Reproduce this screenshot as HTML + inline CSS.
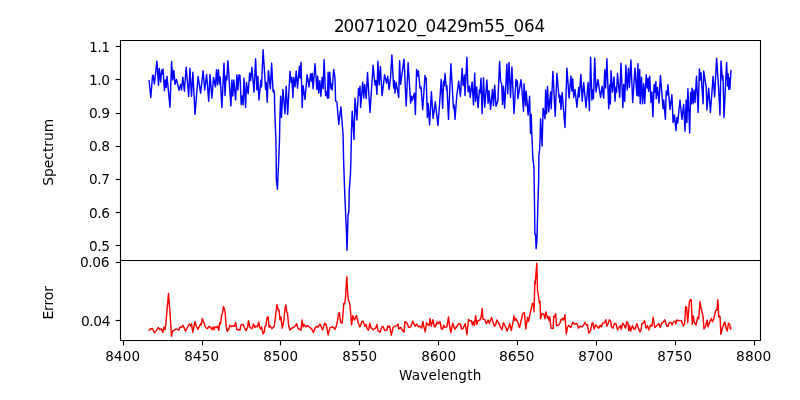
<!DOCTYPE html>
<html lang="en"><head><meta charset="utf-8"><title>20071020_0429m55_064</title>
<style>html,body{margin:0;padding:0;background:#fff;overflow:hidden}svg{display:block}text{font-family:"DejaVu Sans", "Liberation Sans", sans-serif;fill:#000}</style></head><body>
<svg width="800" height="400" viewBox="0 0 800 400">
<rect width="800" height="400" fill="#fff"/>
<clipPath id="c1"><rect x="120" y="40" width="640" height="220"/></clipPath>
<clipPath id="c2"><rect x="120" y="260" width="640" height="80"/></clipPath>
<polyline clip-path="url(#c1)" fill="none" stroke="#0000ff" stroke-width="1.43" stroke-linejoin="round" stroke-linecap="square" points="149.1,80.7 150.8,97.5 152.5,76 153.1,75 154.4,84 156.9,61.2 158.5,85.2 159.2,68.2 160.6,82 161.6,70 162.3,74 163.1,69 164.4,90.6 165.4,80 166.2,87.5 167,76.2 170,107.2 171.6,61.5 172.7,80 173.9,70.4 175,84.4 176.5,79.4 179,90.2 180.6,84.4 181.5,90 182.8,77.3 184.4,91.2 186.2,67.3 188.7,96.5 189.9,68.3 191.5,96.2 192.9,72.3 195,114.4 198.1,76.5 200.6,93.1 203.1,70.6 204.7,90 206.6,74.4 208.7,101.2 210,74.4 211.9,98.1 213.5,77.5 215.4,86.9 216.5,69.7 217.5,85 218.4,69.7 219.6,84 220.2,77 221.9,107.5 224,63.1 225,95.6 226,76 226.8,80 227.9,60.6 230.9,105.9 231.9,80 232.8,96 233.8,80 235.6,100 236.9,75 237.9,90 239,75 240,75.3 241.2,104.5 242.2,96 243.1,105 244,78.1 245.6,107.5 246.5,82.5 248.1,93.7 249.7,73.1 250.6,80.6 251.9,67.2 254,92.2 255.6,58.7 256.9,90 257.9,76.2 259,100 260.9,80.2 261.5,86.9 263.1,49.7 265.6,89.4 266.2,82.5 267.2,102.2 268.4,70.6 270.4,88.7 271.6,63.1 273.1,91.9 273.8,90 274.4,93 274.75,110 275.9,140 276.25,165 276.3,178.5 277.4,189.2 278.5,165 279.5,140 279.85,120 280.6,96.2 281.5,117.5 282.9,89.4 285,113.7 286.2,86.2 287.7,114.4 290,71.2 291.2,82.5 291.9,77.5 292.9,97.5 293.7,77.5 295,86.9 296.2,71 297.5,88.1 299.4,66.2 300,78.1 301,62.2 302.2,107.5 303.1,85.6 305,99.4 307.1,74.7 309,86.9 310.6,73.7 311.5,81.2 312.2,73.5 313.1,88.7 315,63.7 316.9,89.4 317.7,76.2 318.7,93.1 319.8,80.6 320.9,96.2 322.1,77.5 323.1,88.7 324.1,59.7 325.6,95.6 326.5,92 327.5,98.1 328.1,72.2 328.7,98.1 329.7,72.2 331,88.7 331.6,84 332.2,90 333.7,69.4 335,78 335.6,101.2 336.9,102 338.7,124.4 340.9,106.9 343.1,135 343.6,160 344.6,190 345.9,220 346.3,228 347,250.3 347.6,232 347.9,220 348.1,214 348.9,212 349.25,190 350.4,175 350.9,160 351.5,130 352.2,111.2 354,139.5 355,98.1 356.9,120 358.5,88.7 359.2,95 360,86.2 360.6,107.5 362.7,82.2 363.7,98 364.7,84.4 366.2,98.7 367.5,72.5 370,112.5 373.1,65.2 375,85 376,80.6 376.9,94.4 377.9,61.2 379.1,85 380.4,66.5 382.1,95.6 384.6,74.7 386.5,83.1 387.7,76.2 389.1,89.5 390.6,76.9 391.9,55 393.7,88.1 394.4,80.6 395,93.1 396.2,82.5 398.7,97.5 399.6,60.6 400.6,84.4 404,59.1 406.2,106 408.1,62.7 410.6,103.1 411.5,96.2 412.2,100.6 414.4,93.1 415.4,114.4 416.6,69.4 417.5,76 418.4,71 420,88.1 421,86.9 422.7,109.7 425,75.4 425.6,79.5 426.2,78.1 427.35,117.5 428.2,103.5 429.6,125 431.4,91.8 433.1,118.3 435.3,101.8 437.9,125.5 439.8,101 441.2,79.4 442.7,108.2 443.5,81.2 444.2,86 445,73.5 446.5,90 446.9,85.6 448.5,119.4 450.9,63.7 453.5,108.5 454.1,105 455,119.4 456.8,95.5 458.7,81.2 460.4,96.2 462.1,68.5 463.1,85.6 464.4,75 465,95.6 466.9,57.2 468.1,91.9 469.4,86.2 470.2,97.5 472.1,81.9 473.5,105 474.7,73.1 475.6,101.2 476.6,86.9 478.1,107.7 479.4,90 480,93 481,78.1 482.1,113.7 483.5,77.7 484.7,107.2 486.9,80 488.1,103.1 489,90.6 490.6,109.4 492.5,89.4 493.5,105.6 494.7,85.2 496,106.2 497.9,100.6 499.6,61.5 500.6,81.5 501.7,84 502.5,104.4 503.5,86.2 504.6,108.1 506.9,64 507.7,93.7 509,62.5 510.5,97.5 511.9,66.9 514,113.7 516,79.4 517,86 517.4,81 517.9,98.7 521,79.7 522.2,93 523.5,111.2 524,83.7 525.6,105.6 526.2,91.2 528.1,115 529.6,96.2 530.5,133.5 531.2,114.5 531.9,135 532.5,150 532.9,159.7 533.85,165.7 534.15,180 534.6,210 534.9,234 535.6,235 536.1,248.8 536.9,241 537.15,232.5 537.75,210 538.65,180 538.9,155 539.6,150 540,140 540.6,118.7 542.1,146 543.1,108.1 545,118.7 545.6,90 546.5,113.7 547.5,86.5 548.7,111.9 550.6,91.9 551.2,108.7 552.9,71.5 555.2,116.2 556.9,73.5 559,97.5 559.4,95 559.8,102.5 560.4,96 561,109.4 562.1,92.5 565,127.5 566.9,68.1 569.1,98.1 570.9,76 571.9,91 572.7,78.7 573.7,97.5 575,89.4 576.9,107.2 578.7,87.5 579.2,97 580.9,74.4 582.2,101.2 583.7,82.5 586,107.5 588.1,82.5 589.4,110.6 590.6,57.2 591.9,100 592.8,90 593.5,98.7 594.7,57.9 596,91.9 597.9,79.7 600.6,97.5 602.1,86.2 603.7,98.1 604.7,70 605.6,88 606.9,58.7 608.7,108.7 609.6,85 610.4,104 611,70.6 612.5,92 614,76.9 615,101.2 616,87 616.6,92 617.5,73.5 619.7,97.5 621,63.1 622.9,107.5 623.7,84.4 624.7,101.2 625.9,65.2 627.2,90 628.5,68.1 629.4,87.5 630.9,60 632.7,102.5 635,68.1 636.9,95.6 637.9,63.7 638.5,96.2 639.7,69.4 640.2,103.7 641.5,77.2 642.5,103.7 643.7,83.7 644.7,103.5 646.2,74.7 647.2,88 648.1,78.1 648.6,91.2 649.7,76.2 651,102.5 651.9,92 652.9,116.9 654.1,84.4 655,92 655.9,81.6 656.2,98.7 657.5,87.5 659,103.1 660.4,75.4 663.1,108.7 663.7,100 665.4,119.4 666.2,91.2 667.1,95 667.9,84.7 670,109.4 671.9,94.7 673.1,122.5 674.4,115 676,130.6 676.9,117.5 677.7,123.1 680,100 681.9,119.4 683.7,104.4 685,131.2 686.2,100 686.9,122.5 687.9,88.7 689.7,133.1 690.6,92.5 691.3,104 692.1,88.1 693.1,103.7 694,90 695,102.5 696.5,76.2 698.1,112.5 699.4,69 700.2,80 701,72.7 703.1,103.7 703.7,71 706.3,88 706.9,110 708.7,88.1 710.4,112.5 713.1,76.2 714.6,96.9 716.6,58.1 718.5,86.2 720,115 721,61 722.5,80 723,76 724,117.5 726.6,62.5 727.6,86 728.2,74 728.8,89.5 729.4,78 729.9,89 731,70.6"/>
<polyline clip-path="url(#c2)" fill="none" stroke="#ff0000" stroke-width="1.43" stroke-linejoin="round" stroke-linecap="square" points="149.12,330.25 150.62,328.75 152.5,328.5 154.38,332.75 156.25,330.62 158.12,327.5 160,329.75 161.25,328.75 162.88,332.5 164,326.88 165,329.75 165.62,326.25 168.5,293.5 170,312.5 171.5,336.25 172.5,331 174.38,330.25 176.25,328.75 178.75,330.25 180.25,326.88 181.5,327.5 182.88,325.25 184,327.5 185.62,331.25 187.5,327.25 189.38,324 190.62,326.25 191.5,323.75 192.88,332.5 193.75,327.5 195,321.5 196.25,326.25 197.88,329.38 199.38,326.25 200.88,323.5 201.25,325 202.25,318.5 203.75,322.5 205.62,327.5 207.5,328.75 208.75,326.5 210.62,327.25 211.88,329.75 213.12,326.88 214,329.75 215,326.88 216.88,327.5 217.75,326.25 218.75,330.25 219.75,322.75 220.62,323.75 221.62,315 222.5,313.12 223.5,306.5 225,311.25 226.25,326.25 227.25,331.25 228.75,329 230,325.25 231.25,326.5 233.12,326 234.38,326.25 235.62,322.5 236.88,329.75 238.75,329.75 240,330 241,325 243.12,324.38 244.38,327.5 246,330.62 247.5,327.5 248.5,320.62 249.75,327.25 251.88,328.75 253.5,324 254.75,327.5 255.62,326.25 257.5,326.88 258.75,321.88 259.75,327.5 260.62,329 261.62,326.88 263.12,333.75 264.38,331.88 265,326.25 266,325.62 266.88,318.12 268.12,316.88 269.12,327.25 270,325.62 271.88,328.75 274.38,326 275.62,315 276.88,304.75 278.12,310 279,309.75 280,320 281,316.88 282.25,328.12 283.75,321.25 285,308.75 285.88,305 286.88,312.5 287.5,313.12 288.75,326.25 290,330 291.88,328.12 293.75,327.25 295,326.25 296.62,323.75 298.12,328.75 300,329.38 301,330.25 302.12,320 303.12,326.88 304.12,324.38 305.62,326.88 307.5,325.62 310,327.5 311.88,329.38 313.5,332.5 315,328.12 316.88,326.25 318.12,327.25 320,324 321.25,326.88 322.5,330 324.75,323.12 326,324.38 326.88,327.5 328.12,335 329.75,328.12 331.88,326.88 333.75,327.5 331.88,326.88 333.5,327.5 335,329.38 336.25,326 337.5,321.25 338.5,313.5 339.38,312.75 340.62,322.5 342.12,323.12 343.12,312.5 343.75,303.5 344.75,303.75 345.62,296.25 346.8,276.6 347.5,290 348.4,300.5 349.4,301.9 350,306.2 350.62,312.5 351.62,325 352.88,315.62 354.38,320 356.5,315.62 358.12,322.75 360,326.88 361.88,321.5 363.12,321.25 364.75,326.25 366,324.38 367.25,328.75 368.5,330.25 369.75,323.5 371,327.5 373.12,329.75 375.62,328.12 376.88,324.38 377.88,330.62 380,332.25 381.88,326.88 383.12,326.5 384.75,330.62 386.88,330 387.88,326 388.75,326.88 389.75,326 391.25,335.25 393.12,327.25 395,326 396.88,325.62 398.12,324 398.75,328.75 401,327.5 402.25,330 404,332.25 405,321.5 406.88,322.75 408.75,327.5 410.62,326.88 412.75,321.25 414,324.38 415.38,326.25 416.5,324 418.5,326.88 419.75,326 421.62,328.12 422.88,321.5 423.75,326.25 425.25,331.88 426.5,322.75 428.12,325 429.12,325.62 430,318.5 431.25,326.25 432.88,319.75 434.38,326.88 435.62,326.25 436.88,321.88 438.12,323.75 440,321.5 441.25,328.5 442.5,329.38 443.75,325.25 445,327.5 446.88,326.88 448.5,316.88 449.62,326.25 450.88,332.5 452.75,323.12 454.75,329.38 456.88,326.25 458.75,323.75 460.38,324 461.62,329 463.12,328.5 465.25,323.75 466.88,334.75 468.5,319.38 470,321 471.5,320.62 472.25,325 473.12,321.88 474.38,325.62 475.62,315.62 476.88,324.38 478.12,320.62 480,320 481.25,316.88 482.12,308.5 483.12,319.38 484.75,319.38 486.5,323.75 488.12,320 489.38,323.5 491.5,317.5 493.12,322.5 494.38,326.25 495.62,325 496.88,320 498.75,323.12 500,326.25 501.88,329.75 503.5,322.75 505.62,326.88 507.12,331 508.5,327.5 509.75,323.5 511.25,330.62 512.75,323.75 514,316 515,320.62 516,318.5 517.75,322.5 519.62,327.5 522.5,314.38 524.38,312.5 525.88,329 527.5,317.5 528.5,321.25 529.75,315 532.5,303.5 533.5,303.75 534,311.88 534.3,300 534.9,281.5 535.1,284.5 536.8,263.3 537.5,290 539,300 539.4,303.1 540,301.2 540.62,318.75 541.88,313.75 543.75,314 545,318.75 545.88,311.88 547.5,318.12 548.5,316.88 549,320.62 549.75,316.88 551,328.12 553.12,328.5 553.75,316.25 554.75,316.88 555.62,313.75 556.5,325.62 558.75,325 560,322.75 560.88,319.75 561.88,320 562.5,318.12 563.75,320 565,314.75 566.25,333.75 567.5,327.5 568.75,325.25 570.88,327.5 572.75,322.25 574.38,324 576.88,323.5 578.5,328.12 580,326.25 581.88,326.88 583.75,325 585,322.25 586.25,325 587.5,324.75 588.75,333.12 590.62,330.62 591.88,323.5 592.88,322.75 594.12,329 595.62,324.75 597.5,326.88 598.75,328.12 600,325.25 601.25,326.88 602.75,323.12 604.38,322.75 605.88,319.75 606.88,326.25 608.12,323.5 609.38,319.75 610.62,321.25 611.5,326.88 613.12,328.12 614.38,323.75 616,323.75 617.5,329.75 619.38,326.88 620.38,325.62 621.25,329.38 622.75,323.12 624.38,325.62 625.62,328.12 626.88,321.5 628.12,323.75 628.75,330.62 629.75,325.62 630.62,331 632.5,325.62 633.75,329 635,329.38 636.88,323.75 638.12,327.5 640,331.88 641,330 641.88,323.75 643.12,323.12 644.62,320.62 646,328.12 647.5,325.62 648.75,330 650.62,325.25 651.88,326.25 653.12,317.25 654.75,327.5 656.88,325.62 658.75,323.5 660.25,327.5 661.88,322.75 663.12,322.5 664.62,319.75 666.88,326.25 668.12,326.25 669.38,322.5 671.25,322.75 672.12,325 673.12,322.5 675,321 675.88,323.75 676.88,320 678.75,320.62 681.25,320.62 683.5,326 684.62,323.75 685.62,306.5 686.62,307.5 687.75,322.75 689.38,301.88 690.62,299.38 691.25,300 692.25,324.38 693.12,315.62 694.38,322.5 696,325 697.75,316.88 698.75,318.75 700,301.5 701.25,308.75 703.12,316.88 704,329 705.62,326.25 707.12,320 708.12,326.88 710,321.25 711.25,318.5 712.5,321.88 714,318.12 715.62,310.62 716.88,310 717.88,299.75 718.75,316.88 720,316.25 720.88,334.38 722.5,327.5 724.75,321.88 726.25,328.75 727.25,331 728.5,323.12 729.75,324.38 730.38,329 731,328.12"/>
<g stroke="#000" stroke-width="1.11" fill="none" stroke-linecap="square">
<path d="M120.5 40.5H760.5V260.5H120.5Z"/>
<path d="M120.5 260.5V340.5H760.5V260.5"/>
</g>
<g stroke="#000" stroke-width="1.11" fill="none" stroke-linecap="butt">
<path d="M120.5 46.5h-4.86"/>
<path d="M120.5 79.5h-4.86"/>
<path d="M120.5 113.5h-4.86"/>
<path d="M120.5 146.5h-4.86"/>
<path d="M120.5 179.5h-4.86"/>
<path d="M120.5 212.5h-4.86"/>
<path d="M120.5 245.5h-4.86"/>
<path d="M120.5 262.5h-4.86"/>
<path d="M120.5 320.5h-4.86"/>
<path d="M123.5 340.5v4.86"/>
<path d="M202.5 340.5v4.86"/>
<path d="M280.5 340.5v4.86"/>
<path d="M359.5 340.5v4.86"/>
<path d="M438.5 340.5v4.86"/>
<path d="M517.5 340.5v4.86"/>
<path d="M596.5 340.5v4.86"/>
<path d="M675.5 340.5v4.86"/>
<path d="M754.5 340.5v4.86"/>
</g>
<text x="109.53" y="51.73" text-anchor="end" font-size="13.189px" letter-spacing="-0.25px">1.1</text>
<text x="109.53" y="84.65" text-anchor="end" font-size="13.789px" letter-spacing="-0.5px">1.0</text>
<text x="109.41" y="117.81" text-anchor="end" font-size="13.789px" letter-spacing="-0.5px">0.9</text>
<text x="109.53" y="150.98" text-anchor="end" font-size="13.789px" letter-spacing="-0.475px">0.8</text>
<text x="109.41" y="184.15" text-anchor="end" font-size="13.589px" letter-spacing="-0.425px">0.7</text>
<text x="109.41" y="217.56" text-anchor="end" font-size="13.689px" letter-spacing="-0.475px">0.6</text>
<text x="109.41" y="250.73" text-anchor="end" font-size="13.689px" letter-spacing="-0.475px">0.5</text>
<text x="109.03" y="267.08" text-anchor="end" font-size="13.789px" letter-spacing="-0.4px">0.06</text>
<text x="110.03" y="325.68" text-anchor="end" font-size="13.789px" letter-spacing="-0.4px">0.04</text>
<text x="122.81" y="360.53" text-anchor="middle" font-size="13.489px" letter-spacing="0.175px">8400</text>
<text x="201.68" y="360.53" text-anchor="middle" font-size="13.489px" letter-spacing="0.15px">8450</text>
<text x="280.68" y="360.53" text-anchor="middle" font-size="13.489px" letter-spacing="0.2px">8500</text>
<text x="359.68" y="360.53" text-anchor="middle" font-size="13.489px" letter-spacing="0.15px">8550</text>
<text x="438.81" y="360.53" text-anchor="middle" font-size="13.589px" letter-spacing="0.1px">8600</text>
<text x="516.68" y="360.53" text-anchor="middle" font-size="13.989px" letter-spacing="-0.075px">8650</text>
<text x="595.68" y="360.53" text-anchor="middle" font-size="13.489px" letter-spacing="0.15px">8700</text>
<text x="674.68" y="360.53" text-anchor="middle" font-size="13.489px" letter-spacing="0.15px">8750</text>
<text x="753.68" y="360.53" text-anchor="middle" font-size="13.789px" letter-spacing="0.025px">8800</text>
<text x="440.23" y="379.52" text-anchor="middle" font-size="13.589px" letter-spacing="0.205px">Wavelength</text>
<text transform="translate(52.61 152.25) rotate(-90)" text-anchor="middle" font-size="13.889px" letter-spacing="-0.05px">Spectrum</text>
<text transform="translate(52.61 302.88) rotate(-90)" text-anchor="middle" font-size="14.089px" letter-spacing="-0.175px">Error</text>
<text x="438.5" y="31.67" dx="1 -1" text-anchor="middle" font-size="16.8px" letter-spacing="-0.125px">20071020_0429m55_064</text>
</svg></body></html>
